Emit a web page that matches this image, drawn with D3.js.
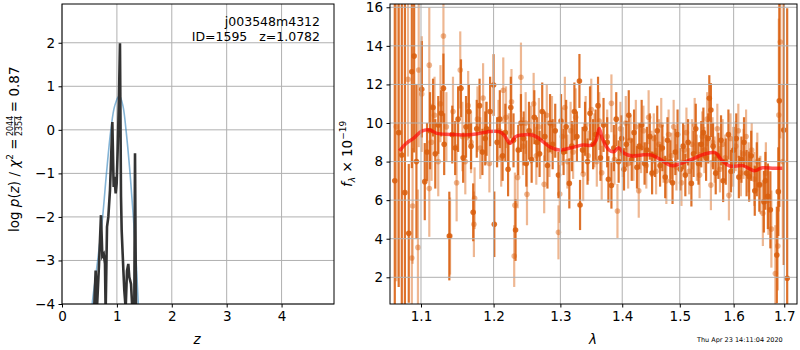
<!DOCTYPE html>
<html>
<head>
<meta charset="utf-8">
<script src="https://cdn.jsdelivr.net/npm/d3@7"></script>
<style>
body { margin: 0; background: #fff; }
svg { font-family: "DejaVu Sans", sans-serif; }
</style>
</head>
<body>
<svg width="800" height="350"></svg>
<script>
"use strict";

// p(z) panel
var pzZ = [0.55,0.589,0.613,0.637,0.674,0.710,0.735,0.760,0.783,0.795,
           0.820,0.844,0.874,0.917,0.941,0.953,0.978,0.996,1.014,1.038,
           1.056,1.075,1.087,1.117,1.135,1.160,1.184,1.208,1.226,1.257,
           1.281,1.317,1.330,1.348];
var pzLogP = [-4.6,-4.0,-3.23,-4.1,-3.1,-1.96,-2.9,-2.85,-3.08,-4.2,
              -2.23,-2.0,-1.39,0.18,-1.31,-1.08,-1.46,-1.23,-0.47,0.76,
              1.99,-1.54,-2.31,-3.2,-3.69,-4.1,-3.24,-3.08,-3.38,-3.54,
              -4.1,-4.1,-0.54,-4.2];
var fitZ = [0.50,0.55,0.65,0.74,0.81,0.89,0.96,1.045,1.11,1.166,1.24,1.30,1.35,1.39,1.42];
var fitLogP = [-4.8,-4,-3,-2,-1,0,0.55,0.79,0.55,0,-1,-2,-3,-4,-4.6];
var zTicks = [0,1,2,3,4];
var logpTicks = [-4,-3,-2,-1,0,1,2];

// spectrum panel
var darkWave = [1.066,1.071,1.075,1.079,1.084,1.088,1.091,1.094,1.101,1.105,
  1.108,1.112,1.116,1.119,1.123,1.127,1.130,1.131,1.138,1.142,
  1.146,1.150,1.154,1.157,1.161,1.165,1.168,1.171,1.176,1.180,
  1.184,1.188,1.190,1.195,1.200,1.201,1.205,1.209,1.213,1.217,
  1.221,1.225,1.229,1.232,1.236,1.240,1.244,1.248,1.252,1.256,
  1.260,1.264,1.268,1.272,1.276,1.280,1.284,1.288,1.292,1.297,
  1.301,1.305,1.309,1.314,1.318,1.322,1.326,1.330,1.331,1.335,
  1.339,1.343,1.347,1.352,1.356,1.360,1.364,1.369,1.375,1.377,
  1.382,1.386,1.390,1.394,1.399,1.403,1.407,1.411,1.416,1.420,
  1.425,1.429,1.433,1.438,1.442,1.447,1.451,1.456,1.460,1.465,
  1.469,1.474,1.478,1.483,1.487,1.492,1.496,1.501,1.506,1.510,
  1.515,1.521,1.525,1.529,1.534,1.539,1.543,1.548,1.552,1.554,
  1.557,1.561,1.566,1.571,1.576,1.580,1.585,1.590,1.595,1.600,
  1.605,1.610,1.615,1.620,1.625,1.630,1.634,1.641,1.645,1.650,
  1.659,1.662,1.667,1.672,1.685,1.688,1.690,1.699,1.706];
var darkFlux = [7.0,9.5,8.34,6.39,4.28,12.66,13.47,8.0,11.75,6.96,
  8.5,9.6,10.8,8.4,9.9,10.5,11.8,8.9,4.14,9.4,
  8.7,10.2,11.8,8.2,9.8,10.6,8.8,5.37,9.7,10.9,
  8.5,9.2,9.7,10.6,11.97,4.75,9.0,10.2,8.3,9.5,
  7.6,10.8,9.1,4.45,8.6,10.0,9.2,7.9,9.6,8.1,
  10.3,9.0,8.4,10.6,9.3,7.8,10.0,8.9,9.6,7.3,
  10.1,8.5,9.8,6.87,8.8,10.6,9.3,12.18,5.75,8.6,
  9.7,8.0,10.5,8.9,9.4,10.9,8.2,9.9,9.0,7.08,
  6.76,8.7,10.2,8.0,9.2,7.6,8.9,10.4,8.1,9.5,
  7.7,8.8,9.9,7.9,8.6,9.3,7.4,8.3,9.6,7.8,
  8.7,7.2,9.1,8.0,6.9,8.5,9.4,7.6,8.8,7.3,
  9.0,6.87,8.4,9.7,7.9,8.9,9.5,8.2,9.2,11.28,
  10.67,8.8,7.4,8.3,9.1,7.0,8.0,9.4,7.5,8.6,
  9.2,7.2,8.1,9.0,7.4,7.22,8.3,6.49,7.6,6.8,
  5.92,7.0,6.2,5.5,3.16,6.44,11.15,9.64,1.95];
var darkErr = [11,8,9,10,3.6,5,5,4,2.5,2,
  1.5,2,1.5,1.8,1.5,1.2,1.8,1.6,2.3,1.5,
  1.4,1.7,1.5,1.3,1.6,1.4,1.2,1.5,1.5,1.4,
  1.2,1.4,1.4,1.8,1.6,1.7,1.3,1.5,1.3,1.5,
  1.4,1.6,1.4,1.6,1.3,1.5,1.4,1.2,1.5,1.2,
  1.4,1.3,1.2,1.5,1.3,1.2,1.5,1.3,1.4,1.2,
  1.4,1.2,1.4,1.3,1.3,1.5,1.3,1.4,1.3,1.2,
  1.4,1.2,1.4,1.3,1.3,1.5,1.2,1.4,1.3,1.2,
  1.2,1.2,1.4,1.1,1.2,1.1,1.2,1.3,1.1,1.2,
  1.1,1.2,1.3,1.1,1.2,1.2,1.1,1.1,1.3,1.1,
  1.2,1.1,1.2,1.1,1.1,1.2,1.3,1.1,1.2,1.1,
  1.2,1.2,1.2,1.3,1.1,1.2,1.3,1.2,1.3,1.2,
  1.4,1.2,1.1,1.2,1.3,1.1,1.2,1.3,1.1,1.2,
  1.3,1.1,1.2,1.3,1.2,1.3,1.3,1.3,1.4,1.4,
  1.6,1.5,1.7,2.0,2.5,2.3,5.5,7,14];

var lightWave = [1.068,1.083,1.088,1.089,1.096,1.097,1.101,1.111,1.111,1.114,
  1.118,1.123,1.126,1.130,1.134,1.139,1.143,1.148,1.153,1.156,
  1.160,1.164,1.168,1.172,1.173,1.177,1.181,1.185,1.189,1.194,
  1.207,1.211,1.214,1.218,1.222,1.226,1.230,1.231,1.235,1.240,
  1.243,1.247,1.249,1.255,1.259,1.263,1.267,1.275,1.279,1.283,
  1.287,1.297,1.299,1.303,1.307,1.311,1.316,1.320,1.324,1.336,
  1.340,1.344,1.349,1.354,1.358,1.362,1.366,1.375,1.382,1.387,
  1.392,1.397,1.401,1.406,1.410,1.414,1.419,1.423,1.428,1.432,
  1.436,1.441,1.445,1.450,1.454,1.458,1.463,1.467,1.471,1.476,
  1.480,1.485,1.489,1.494,1.503,1.508,1.512,1.517,1.522,1.527,
  1.531,1.536,1.541,1.545,1.550,1.557,1.560,1.564,1.569,1.574,
  1.579,1.584,1.591,1.594,1.599,1.604,1.609,1.614,1.619,1.624,
  1.629,1.635,1.640,1.646,1.652,1.657,1.663,1.668,1.674,1.682,
  1.687,1.689,1.692,1.697];
var lightFlux = [9.8,12.26,3.0,5.7,3.55,12.75,11.5,6.6,13.0,9.0,
  10.4,8.0,11.0,14.51,9.8,4.14,10.6,6.9,12.75,9.3,
  8.0,10.9,9.0,4.75,6.1,10.2,8.7,11.3,9.5,7.9,
  9.6,8.2,11.7,10.3,9.0,11.1,3.1,5.73,7.18,12.37,
  8.8,10.0,6.3,9.4,11.0,8.3,9.8,6.82,10.4,8.6,
  9.9,4.33,6.32,9.3,10.8,8.0,9.6,8.5,10.3,7.35,
  9.9,8.3,10.7,9.1,8.0,10.1,7.42,9.3,11.02,8.1,
  5.44,9.7,8.5,10.0,7.9,9.1,8.3,9.8,6.49,8.7,
  9.6,7.8,10.3,8.4,9.2,7.5,8.9,9.9,8.1,7.0,
  9.4,8.3,9.8,7.7,6.9,8.6,9.5,7.5,8.9,9.9,
  8.2,7.3,9.3,8.6,10.2,6.78,9.0,8.1,9.7,7.6,
  8.9,8.2,6.25,9.2,7.9,8.8,9.6,7.4,8.4,9.3,
  7.7,8.6,7.1,8.0,6.8,5.32,7.4,6.0,4.5,2.2,
  3.62,10.41,14.2,8.0];
var lightErr = [8,4,2.5,3,3,4,3,2.5,3,2,
  2,1.8,2,2.5,1.8,2,1.8,2,2,1.8,
  1.7,1.8,1.6,1.7,1.6,1.7,1.6,1.8,1.6,1.5,
  1.6,1.5,1.7,1.6,1.5,1.7,1.6,1.7,1.6,1.8,
  1.5,1.6,1.6,1.5,1.6,1.5,1.5,1.5,1.6,1.4,
  1.5,1.4,1.5,1.5,1.6,1.4,1.5,1.4,1.5,1.4,
  1.5,1.3,1.6,1.4,1.3,1.5,1.4,1.4,1.5,1.3,
  1.4,1.4,1.3,1.4,1.3,1.3,1.3,1.4,1.4,1.3,
  1.3,1.2,1.4,1.2,1.3,1.2,1.3,1.4,1.2,1.2,
  1.3,1.2,1.4,1.2,1.2,1.3,1.3,1.2,1.3,1.4,
  1.2,1.2,1.3,1.2,1.4,1.3,1.3,1.2,1.3,1.2,
  1.3,1.2,1.3,1.3,1.2,1.3,1.4,1.2,1.3,1.4,
  1.3,1.4,1.4,1.5,1.5,1.7,1.6,1.8,2.0,2.5,
  2.3,5,5,4];

var modelWave = [1.072,1.081,1.090,1.101,1.112,1.121,1.139,1.157,1.175,1.192,
  1.208,1.215,1.224,1.232,1.242,1.257,1.267,1.283,1.298,1.314,
  1.335,1.351,1.357,1.362,1.367,1.378,1.386,1.394,1.403,1.417,
  1.433,1.450,1.467,1.485,1.502,1.526,1.544,1.565,1.577,1.593,
  1.618,1.640,1.656,1.679,1.696];
var modelFlux = [8.56,8.95,9.2,9.58,9.64,9.46,9.41,9.38,9.43,9.55,
  9.55,9.38,8.95,9.29,9.38,9.38,9.2,8.77,8.6,8.69,
  8.86,8.86,9.12,9.72,9.2,8.6,8.51,8.72,8.43,8.29,
  8.34,8.34,8.08,7.79,7.91,8.17,8.38,8.46,8.08,7.77,
  7.79,7.53,7.68,7.65,7.65];
var waveTicks = [1.1,1.2,1.3,1.4,1.5,1.6,1.7];
var fluxTicks = [2,4,6,8,10,12,14,16];

var svg = d3.select("svg");
var minus = function(d){ return d < 0 ? "\u2212" + (-d) : String(d); };
var gridColor = "#b0b0b0";
var orange = "#d95f0e";

// ---------- left panel ----------
var xL = d3.scaleLinear().domain([0, 4.955]).range([62, 334]);
var yL = d3.scaleLinear().domain([-4, 2.89]).range([304, 4]);

svg.append("clipPath").attr("id", "clipL").append("rect")
  .attr("x", 62).attr("y", 4).attr("width", 272).attr("height", 300);

var gL = svg.append("g");
gL.selectAll(".gx").data(zTicks).join("line")
  .attr("x1", d => xL(d)).attr("x2", d => xL(d)).attr("y1", 4).attr("y2", 304)
  .attr("stroke", gridColor).attr("stroke-width", 1);
gL.selectAll(".gy").data(logpTicks).join("line")
  .attr("x1", 62).attr("x2", 334).attr("y1", d => yL(d)).attr("y2", d => yL(d))
  .attr("stroke", gridColor).attr("stroke-width", 1);

var plotL = gL.append("g").attr("clip-path", "url(#clipL)");
plotL.append("path")
  .attr("d", d3.line().x(d => xL(d[0])).y(d => yL(d[1])).curve(d3.curveCatmullRom)(fitZ.map((z,i) => [z, fitLogP[i]])))
  .attr("fill", "none").attr("stroke", "#1f77b4").attr("stroke-opacity", 0.55).attr("stroke-width", 1.6);
plotL.append("path")
  .attr("d", d3.line().x(d => xL(d[0])).y(d => yL(d[1]))(pzZ.map((z,i) => [z, pzLogP[i]])))
  .attr("fill", "none").attr("stroke", "#333").attr("stroke-width", 2.6);

gL.append("g").attr("transform", "translate(0,304)")
  .call(d3.axisBottom(xL).tickValues(zTicks).tickSize(3.5).tickPadding(3.5).tickFormat(minus));
gL.append("g").attr("transform", "translate(62,0)")
  .call(d3.axisLeft(yL).tickValues(logpTicks).tickSize(3.5).tickPadding(3.5).tickFormat(minus));
gL.append("rect").attr("x", 62).attr("y", 4).attr("width", 272).attr("height", 300)
  .attr("fill", "none").attr("stroke", "#000").attr("stroke-width", 1);

gL.append("text").attr("x", 320).attr("y", 26).attr("text-anchor", "end")
  .attr("font-size", 12.5).text("j003548m4312");
gL.append("text").attr("x", 320).attr("y", 41).attr("text-anchor", "end")
  .attr("font-size", 12.5).attr("xml:space", "preserve").text("ID=1595   z=1.0782");

gL.append("text").attr("x", 197).attr("y", 344).attr("text-anchor", "middle")
  .attr("font-size", 13.5).attr("font-style", "italic").text("z");

// y label with stacked fraction
var yl = svg.append("g").attr("transform", "translate(19,232) rotate(-90)");
var t1 = yl.append("text").attr("font-size", 13.5);
t1.append("tspan").text("log ");
t1.append("tspan").attr("font-style", "italic").text("p");
t1.append("tspan").text("(");
t1.append("tspan").attr("font-style", "italic").text("z");
t1.append("tspan").text(") / ");
t1.append("tspan").attr("font-style", "italic").text("\u03c7");
t1.append("tspan").attr("font-size", 9).attr("dy", -6).text("2");
t1.append("tspan").attr("dy", 6).text(" = ");
var w1 = t1.node().getComputedTextLength() + 3;
var fw = 19;
yl.append("text").attr("x", w1 + fw / 2).attr("y", -6).attr("text-anchor", "middle").attr("font-size", 8).text("2044");
yl.append("text").attr("x", w1 + fw / 2).attr("y", 3).attr("text-anchor", "middle").attr("font-size", 8).text("2354");
yl.append("line").attr("x1", w1).attr("x2", w1 + fw).attr("y1", -4.3).attr("y2", -4.3).attr("stroke", "#000").attr("stroke-width", 0.7);
yl.append("text").attr("x", w1 + fw).attr("font-size", 13.5).attr("xml:space", "preserve").text(" = 0.87");

// ---------- right panel ----------
var xR = d3.scaleLog().domain([1.0599, 1.7262]).range([390, 797]);
var yR = d3.scaleLinear().domain([0.616, 16.17]).range([304, 4]);

svg.append("clipPath").attr("id", "clipR").append("rect")
  .attr("x", 390).attr("y", 4).attr("width", 407).attr("height", 300);

var gR = svg.append("g");
var plotR = gR.append("g").attr("clip-path", "url(#clipR)");

var light = lightWave.map((w,i) => ({w: w, f: lightFlux[i], e: lightErr[i]}));
var dark = darkWave.map((w,i) => ({w: w, f: darkFlux[i], e: darkErr[i]}));

function errbars(g, data, op) {
  g.append("g").selectAll("line").data(data).join("line")
    .attr("x1", d => xR(d.w)).attr("x2", d => xR(d.w))
    .attr("y1", d => yR(d.f - d.e)).attr("y2", d => yR(d.f + d.e))
    .attr("stroke", orange).attr("stroke-opacity", op).attr("stroke-width", 2.2);
  g.append("g").selectAll("circle").data(data).join("circle")
    .attr("cx", d => xR(d.w)).attr("cy", d => yR(d.f)).attr("r", 2.8)
    .attr("fill", orange).attr("fill-opacity", op);
}
errbars(plotR, light, 0.45);
errbars(plotR, dark, 0.88);

plotR.append("path")
  .attr("d", d3.line().x(d => xR(d[0])).y(d => yR(d[1])).curve(d3.curveCatmullRom)(modelWave.map((w,i) => [w, modelFlux[i]])))
  .attr("fill", "none").attr("stroke", "#ff0000").attr("stroke-opacity", 0.65).attr("stroke-width", 3.5);

gR.selectAll(".gx").data(waveTicks).join("line")
  .attr("x1", d => xR(d)).attr("x2", d => xR(d)).attr("y1", 4).attr("y2", 304)
  .attr("stroke", gridColor).attr("stroke-width", 1);
gR.selectAll(".gy").data(fluxTicks).join("line")
  .attr("x1", 390).attr("x2", 797).attr("y1", d => yR(d)).attr("y2", d => yR(d))
  .attr("stroke", gridColor).attr("stroke-width", 1);

gR.append("g").attr("transform", "translate(0,304)")
  .call(d3.axisBottom(xR).tickValues(waveTicks).tickSize(3.5).tickPadding(3.5).tickFormat(d3.format(".1f")));
gR.append("g").attr("transform", "translate(390,0)")
  .call(d3.axisLeft(yR).tickValues(fluxTicks).tickSize(3.5).tickPadding(3.5));
gR.append("rect").attr("x", 390).attr("y", 4).attr("width", 407).attr("height", 300)
  .attr("fill", "none").attr("stroke", "#000").attr("stroke-width", 1);

gR.append("text").attr("x", 593).attr("y", 344).attr("text-anchor", "middle")
  .attr("font-size", 13.5).attr("font-style", "italic").text("\u03bb");

var yr = svg.append("g").attr("transform", "translate(352,187) rotate(-90)");
var t2 = yr.append("text").attr("font-size", 13.5);
t2.append("tspan").attr("font-style", "italic").text("f");
t2.append("tspan").attr("font-style", "italic").attr("font-size", 9).attr("dy", 3).text("\u03bb");
t2.append("tspan").attr("dy", -3).text(" \u00d7 10");
t2.append("tspan").attr("font-size", 9).attr("dy", -6).text("\u221219");

svg.append("text").attr("x", 697).attr("y", 342).attr("font-size", 6.5).text("Thu Apr 23 14:11:04 2020");

svg.selectAll(".tick text").attr("font-size", 13.5).attr("font-family", "DejaVu Sans").attr("fill", "#000");
svg.selectAll(".domain").remove();
svg.selectAll(".tick line").attr("stroke", "#000");
</script>
</body>
</html>
